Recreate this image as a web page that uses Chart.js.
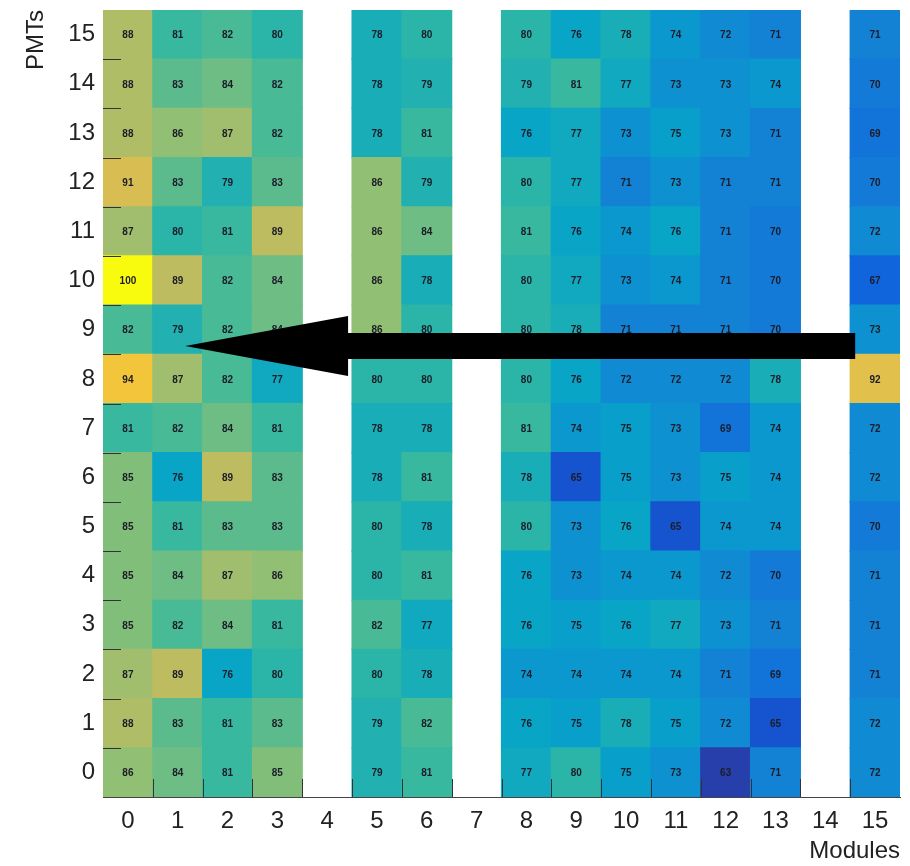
<!DOCTYPE html>
<html>
<head>
<meta charset="utf-8">
<script src="https://cdn.jsdelivr.net/npm/chart.js@4.4.1/dist/chart.umd.min.js"></script>
<style>
  html, body { margin: 0; padding: 0; background: #fff; }
  #wrap { width: 910px; height: 866px; }
</style>
</head>
<body>
<div id="wrap"><canvas id="gainMap"></canvas></div>
<script>
// Module (x) and PMT (y) bins
const modules = ['0', '1', '2', '3', '4', '5', '6', '7', '8', '9', '10', '11', '12', '13', '14', '15'];
const pmts = [0, 1, 2, 3, 4, 5, 6, 7, 8, 9, 10, 11, 12, 13, 14, 15];

// Relative gain per PMT row (index = module), null = no module
const pmt0  = [86, 84, 81, 85, null, 79, 81, null, 77, 80, 75, 73, 63, 71, null, 72];
const pmt1  = [88, 83, 81, 83, null, 79, 82, null, 76, 75, 78, 75, 72, 65, null, 72];
const pmt2  = [87, 89, 76, 80, null, 80, 78, null, 74, 74, 74, 74, 71, 69, null, 71];
const pmt3  = [85, 82, 84, 81, null, 82, 77, null, 76, 75, 76, 77, 73, 71, null, 71];
const pmt4  = [85, 84, 87, 86, null, 80, 81, null, 76, 73, 74, 74, 72, 70, null, 71];
const pmt5  = [85, 81, 83, 83, null, 80, 78, null, 80, 73, 76, 65, 74, 74, null, 70];
const pmt6  = [85, 76, 89, 83, null, 78, 81, null, 78, 65, 75, 73, 75, 74, null, 72];
const pmt7  = [81, 82, 84, 81, null, 78, 78, null, 81, 74, 75, 73, 69, 74, null, 72];
const pmt8  = [94, 87, 82, 77, null, 80, 80, null, 80, 76, 72, 72, 72, 78, null, 92];
const pmt9  = [82, 79, 82, 84, null, 86, 80, null, 80, 78, 71, 71, 71, 70, null, 73];
const pmt10 = [100, 89, 82, 84, null, 86, 78, null, 80, 77, 73, 74, 71, 70, null, 67];
const pmt11 = [87, 80, 81, 89, null, 86, 84, null, 81, 76, 74, 76, 71, 70, null, 72];
const pmt12 = [91, 83, 79, 83, null, 86, 79, null, 80, 77, 71, 73, 71, 71, null, 70];
const pmt13 = [88, 86, 87, 82, null, 78, 81, null, 76, 77, 73, 75, 73, 71, null, 69];
const pmt14 = [88, 83, 84, 82, null, 78, 79, null, 79, 81, 77, 73, 73, 74, null, 70];
const pmt15 = [88, 81, 82, 80, null, 78, 80, null, 80, 76, 78, 74, 72, 71, null, 71];

const rows = [pmt0, pmt1, pmt2, pmt3, pmt4, pmt5, pmt6, pmt7, pmt8, pmt9, pmt10, pmt11, pmt12, pmt13, pmt14, pmt15];

// colour scale range (z axis)
const zMin = 61;
const zMax = 100;

// ROOT "bird" palette
const birdStops = [0, 0.125, 0.25, 0.375, 0.5, 0.625, 0.75, 0.875, 1];
const birdR = [0.2082, 0.0592, 0.0780, 0.0232, 0.1802, 0.5301, 0.8186, 0.9956, 0.9764];
const birdG = [0.1664, 0.3599, 0.5041, 0.6419, 0.7178, 0.7492, 0.7328, 0.7862, 0.9832];
const birdB = [0.5293, 0.8684, 0.8385, 0.7914, 0.6425, 0.4662, 0.3499, 0.1968, 0.0539];

function birdColor(v) {
  let t = (v - zMin) / (zMax - zMin);
  t = Math.max(0, Math.min(1, t));
  let i = 0;
  while (i < birdStops.length - 2 && t > birdStops[i + 1]) i++;
  const f = (t - birdStops[i]) / (birdStops[i + 1] - birdStops[i]);
  const mix = (arr) => Math.round(255 * (arr[i] + (arr[i + 1] - arr[i]) * f));
  return 'rgb(' + mix(birdR) + ',' + mix(birdG) + ',' + mix(birdB) + ')';
}

// one floating-bar dataset per PMT row
const datasets = pmts.map((p, r) => ({
  label: 'PMT ' + p,
  data: rows[r].map(v => (v === null ? null : [p - 0.5, p + 0.5])),
  backgroundColor: rows[r].map(v => (v === null ? 'rgba(0,0,0,0)' : birdColor(v))),
  borderWidth: 0,
  grouped: false,
  barPercentage: 1,
  categoryPercentage: 1,
  inflateAmount: 0.6
}));

// cell text + ROOT style inner ticks + arrow
const overlayPlugin = {
  id: 'overlay',
  afterDatasetsDraw(chart) {
    const ctx = chart.ctx;
    const xs = chart.scales.x;
    const ys = chart.scales.y;
    const area = chart.chartArea;
    ctx.save();
    ctx.font = 'bold 10px "Liberation Sans", Arial, sans-serif';
    ctx.fillStyle = '#1c1c28';
    ctx.textAlign = 'center';
    ctx.textBaseline = 'middle';
    rows.forEach((row, r) => {
      row.forEach((v, c) => {
        if (v === null) return;
        ctx.fillText(String(v), xs.getPixelForValue(c), ys.getPixelForValue(pmts[r]) + 1);
      });
    });

    // tick marks at bin edges
    ctx.strokeStyle = '#333';
    ctx.lineWidth = 1;
    ctx.beginPath();
    for (let i = 1; i < pmts.length; i++) {
      const y = Math.round(ys.getPixelForValue(i - 0.5)) + 0.5;
      ctx.moveTo(area.left, y);
      ctx.lineTo(area.left + 18, y);
    }
    for (let i = 1; i < modules.length; i++) {
      const x = Math.round(xs.getPixelForValue(i - 0.5)) + 0.5;
      ctx.moveTo(x, area.bottom);
      ctx.lineTo(x, area.bottom - 18);
    }
    ctx.stroke();
    ctx.restore();
  },
  afterDraw(chart) {
    const ctx = chart.ctx;
    const xs = chart.scales.x;
    const ys = chart.scales.y;
    const xPix = v => xs.left + (v + 0.5) / modules.length * xs.width;
    // arrow, in axis units
    const tailX = 14.6, headX = 4.42, tipX = 1.15, midY = 8.67;
    const shaft = 0.265, head = 0.61;
    ctx.save();
    ctx.fillStyle = '#000';
    ctx.beginPath();
    ctx.moveTo(xPix(tailX), ys.getPixelForValue(midY + shaft));
    ctx.lineTo(xPix(headX), ys.getPixelForValue(midY + shaft));
    ctx.lineTo(xPix(headX), ys.getPixelForValue(midY + head));
    ctx.lineTo(xPix(tipX), ys.getPixelForValue(midY));
    ctx.lineTo(xPix(headX), ys.getPixelForValue(midY - head));
    ctx.lineTo(xPix(headX), ys.getPixelForValue(midY - shaft));
    ctx.lineTo(xPix(tailX), ys.getPixelForValue(midY - shaft));
    ctx.closePath();
    ctx.fill();
    ctx.restore();
  }
};

const axisFont = { family: '"Liberation Sans", Arial, sans-serif', size: 24 };

new Chart(document.getElementById('gainMap'), {
  type: 'bar',
  data: { labels: modules, datasets: datasets },
  options: {
    responsive: true,
    maintainAspectRatio: false,
    animation: false,
    layout: { padding: { top: 10, right: 10, left: 0, bottom: 0 } },
    plugins: {
      legend: { display: false },
      tooltip: { enabled: false }
    },
    scales: {
      x: {
        type: 'category',
        offset: true,
        grid: { display: false, drawTicks: false },
        border: { display: true, color: '#444', width: 1 },
        ticks: { color: '#222', font: axisFont, padding: 10, maxRotation: 0, autoSkip: false },
        title: {
          display: true, text: 'Modules', align: 'end', color: '#222',
          font: axisFont, padding: { top: 0, bottom: 0 }
        },
        afterFit(scale) {
          scale.height = 69;
          scale.paddingLeft = 0;
          scale.paddingRight = 0;
        }
      },
      y: {
        type: 'linear',
        min: -0.5,
        max: 15.5,
        grid: { display: false, drawTicks: false },
        border: { display: true, color: '#444', width: 1 },
        ticks: { color: '#222', font: axisFont, padding: 8 },
        afterBuildTicks(scale) { scale.ticks = pmts.map(v => ({ value: v })); },
        title: {
          display: true, text: 'PMTs', align: 'end', color: '#222',
          font: axisFont, padding: { top: 22, bottom: 0 }
        },
        afterFit(scale) {
          scale.width = 103;
          scale.paddingTop = 0;
          scale.paddingBottom = 0;
        }
      }
    }
  },
  plugins: [overlayPlugin]
});
</script>
</body>
</html>
